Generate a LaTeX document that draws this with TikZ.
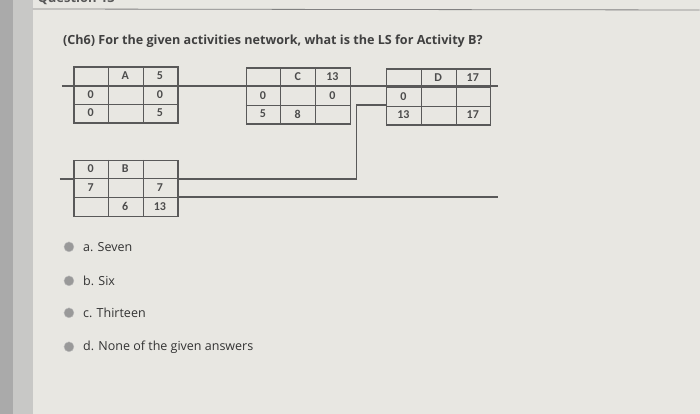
\documentclass[tikz,border=0pt]{standalone}
\usetikzlibrary{calc}
\usepackage{fontspec}
\setmainfont{Open Sans}
\newfontfamily\numf{Carlito}
\definecolor{paper}{RGB}{232,231,226}
\definecolor{margin}{RGB}{200,200,198}
\definecolor{strip}{RGB}{170,170,170}
\begin{document}
\begin{tikzpicture}[x=1pt,y=-1pt,
  cell/.style={font=\numf\bfseries\fontsize{12}{13}\selectfont,text=black!70,inner sep=0pt},
  wire/.style={draw=black!65,line width=1.3pt},
  boxst/.style={draw=black!65,line width=1.3pt,fill=none,inner sep=0pt,minimum width=104pt,minimum height=56pt},
  opt/.style={font=\fontsize{12.5}{14}\selectfont,text=black!80,anchor=west,inner sep=0pt},
  radio/.style={circle,fill=black!40,draw=black!25,minimum size=10pt,inner sep=0pt}]
\fill[margin] (0,0) rectangle (700,414);
\fill[strip] (0,0) rectangle (13,414);
\fill[paper] (33,0) rectangle (700,414);
\draw[black!50,line width=0.8pt] (33,9) -- (700,10);
\begin{scope}
\clip (33,0) rectangle (700,8);
\node[anchor=south west,font=\bfseries\fontsize{13}{14}\selectfont,text=black!65] (q) at (34,8) {Question 13};
\end{scope}
\node[anchor=west,font=\bfseries\fontsize{12.6}{14}\selectfont,text=black!75,inner sep=0pt] (title) at (63,41) {(Ch6) For the given activities network, what is the LS for Activity B?};
% connectors (behind)
\coordinate (lt) at (62,86);
\coordinate (rt) at (498,86);
\coordinate (lb) at (60,179);
\coordinate (rb) at (498,197);
\coordinate (bend1) at (357,179);
\coordinate (bend2) at (357,105);
\draw[wire] (lt) -- (rt);
% boxes
\newcommand{\actbox}[4]{%
  \node[boxst] (#1) at (#2,#3) {};
  \foreach \i in {1,2}{
    \draw[black!65,line width=1.1pt] ($(#1.north west)!\i/3!(#1.north east)$) -- ($(#1.south west)!\i/3!(#1.south east)$);
    \draw[black!65,line width=1.1pt] ($(#1.north west)!\i/3!(#1.south west)$) -- ($(#1.north east)!\i/3!(#1.south east)$);
  }
  \foreach \r/\c/\t in {#4}{
    \node[cell] (#1-\r\c) at ($(#1.north west)+(\c*104/3-104/6,\r*56/3-56/6)$) {\t};
  }
}
\actbox{A}{126}{95}{1/2/A,1/3/5,2/1/0,2/3/0,3/1/0,3/3/5}
\actbox{C}{298.5}{96}{1/2/C,1/3/13,2/1/0,2/3/0,3/1/5,3/2/8}
\actbox{D}{439}{97}{1/2/D,1/3/17,2/1/0,3/1/13,3/3/17}
\actbox{B}{126}{188.5}{1/1/0,1/2/B,2/1/7,2/3/7,3/2/6,3/3/13}
\draw[wire] (lb) -- (B.west |- lb);
\draw[wire] (B.east |- bend1) -- (bend1) -- (bend2) -- (D.west |- bend2);
\draw[wire] (B.east |- rb) -- (rb);
% options
\foreach \n/\y/\t in {a/247/a. Seven,b/281/b. Six,c/313/c. Thirteen,d/347/d. None of the given answers}{
  \node[radio] (r\n) at (69,\y) {};
  \node[opt] (o\n) at (83,\y) {\t};
}
\end{tikzpicture}
\end{document}
